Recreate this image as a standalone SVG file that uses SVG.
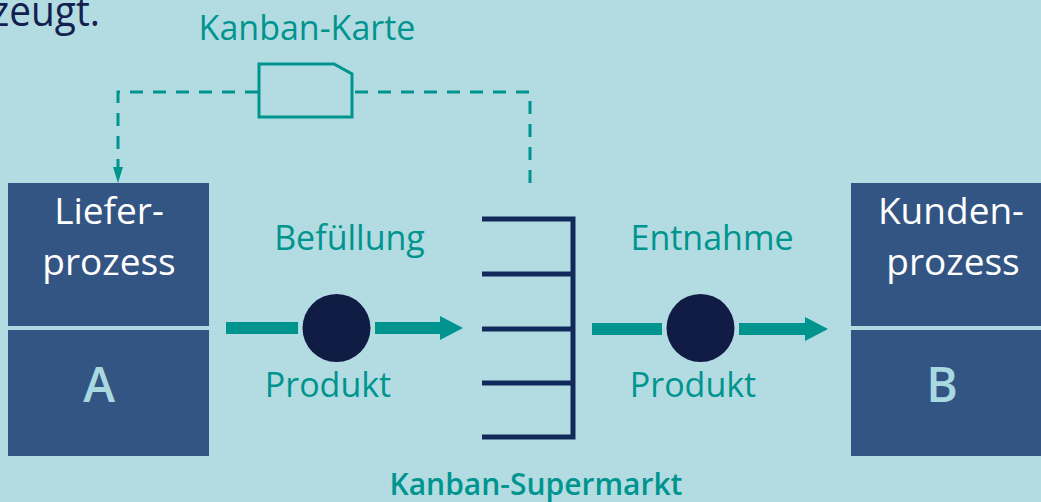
<svg xmlns="http://www.w3.org/2000/svg" width="1041" height="502" viewBox="0 0 1041 502">
<style>
text{font-family:"Open Sans","Liberation Sans",sans-serif}
.lbl{fill:#00948f;font-size:34px;text-anchor:middle}
.wht{fill:#ffffff;font-size:37px;text-anchor:middle}
.big{fill:#a8d8e0;font-size:48px;font-weight:600;text-anchor:middle}
.box{fill:#335583}
.div{stroke:#b2dce2;stroke-width:4}
.dash{fill:none;stroke:#00948f;stroke-width:3;stroke-dasharray:13 10}
.flow{stroke:#00948f;stroke-width:12;fill:none}
.head{fill:#00948f}
.dot{fill:#111c45}
.shelf{stroke:#112a5b;stroke-width:5;fill:none;stroke-linecap:butt}
</style>
<rect x="0" y="0" width="1041" height="502" fill="#b2dce2"/>
<text x="-9" y="26" font-size="42" fill="#142050" textLength="109" lengthAdjust="spacingAndGlyphs" font-family="Open Sans, sans-serif">zeugt.</text>

<g id="card">
<text class="lbl" x="307" y="40">Kanban-Karte</text>
<path d="M259,64 H334 L352,74 V117 H259 Z" fill="none" stroke="#00948f" stroke-width="3"/>
</g>

<g id="supplier">
<rect class="box" x="8" y="183" width="201" height="273"/>
<line class="div" x1="8" y1="328" x2="209" y2="328"/>
<text class="wht" x="109" y="224">Liefer-</text>
<text class="wht" x="109" y="275">prozess</text>
<text class="big" x="99" y="402">A</text>
</g>

<g id="customer">
<rect class="box" x="851" y="183" width="201" height="273"/>
<line class="div" x1="851" y1="328" x2="1052" y2="328"/>
<text class="wht" x="951" y="224">Kunden-</text>
<text class="wht" x="953" y="275">prozess</text>
<text class="big" x="942" y="402">B</text>
</g>

<g id="supermarket">
<path class="shelf" d="M482,219 H573 V437 H482 M482,274 H573 M482,329 H573 M482,383 H573"/>
<text x="536" y="495" fill="#00948f" font-size="30" font-weight="600" text-anchor="middle">Kanban-Supermarkt</text>
</g>

<g id="product1">
<circle class="dot" cx="336.5" cy="328" r="34"/>
<text class="lbl" x="328" y="397">Produkt</text>
</g>
<g id="product2">
<circle class="dot" cx="700.5" cy="328" r="34"/>
<text class="lbl" x="693" y="397">Produkt</text>
</g>

<g id="connectors">
<path class="dash" d="M530,183 V92 H353"/>
<path class="dash" d="M258,92 H118 V168"/>
<polygon class="head" points="113,167 123,167 118,183"/>
<line class="flow" x1="226" y1="328" x2="298" y2="328"/>
<line class="flow" x1="375" y1="328" x2="442" y2="328"/>
<polygon class="head" points="440,316 463,328 440,340"/>
<text class="lbl" x="349.5" y="250">Befüllung</text>
<line class="flow" x1="592" y1="329" x2="662" y2="329"/>
<line class="flow" x1="739" y1="329" x2="807" y2="329"/>
<polygon class="head" points="805,317 828,329 805,341"/>
<text class="lbl" x="712" y="250">Entnahme</text>
</g>
</svg>
